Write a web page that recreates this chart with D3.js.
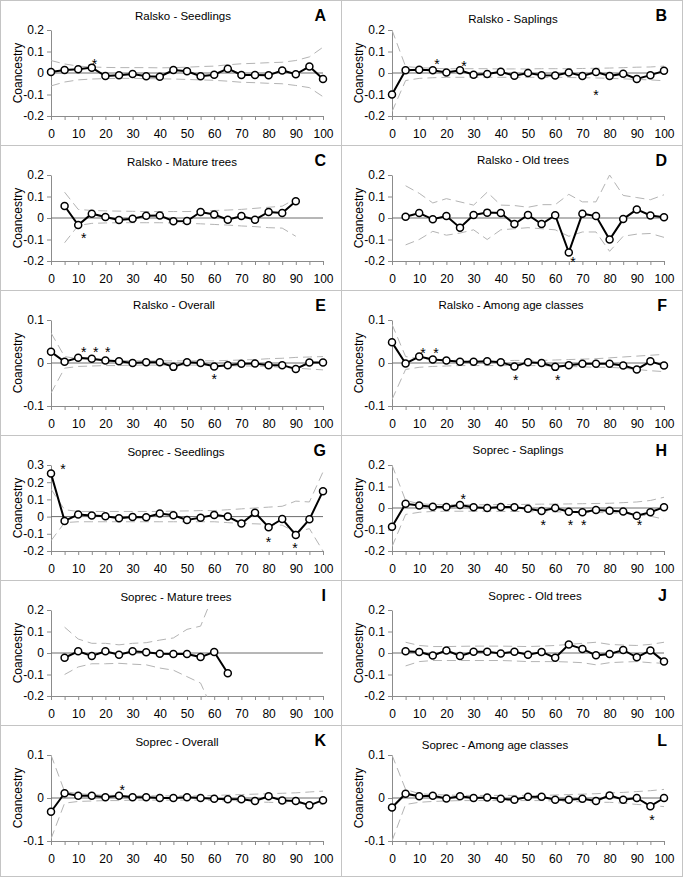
<!DOCTYPE html>
<html><head><meta charset="utf-8">
<script src="https://cdn.jsdelivr.net/npm/d3@7"></script>
<style>body{margin:0;background:#fff} svg{display:block} text{font-family:"Liberation Sans",Arial,sans-serif}</style>
</head><body><svg id="c" width="683" height="878"></svg>
<script>
// ---------- distance classes ----------
const dist0to100 = [0,5,10,15,20,25,30,35,40,45,50,55,60,65,70,75,80,85,90,95,100];
const dist5to100 = [5,10,15,20,25,30,35,40,45,50,55,60,65,70,75,80,85,90,95,100];
const dist5to90  = [5,10,15,20,25,30,35,40,45,50,55,60,65,70,75,80,85,90];
const dist5to65  = [5,10,15,20,25,30,35,40,45,50,55,60,65];
const dist5to60  = [5,10,15,20,25,30,35,40,45,50,55,60];
const xTickLabels = [0,10,20,30,40,50,60,70,80,90,100];

// ---------- titles ----------
const titles = ["Ralsko - Seedlings","Ralsko - Saplings","Ralsko - Mature trees","Ralsko - Old trees",
  "Ralsko - Overall","Ralsko - Among age classes","Soprec - Seedlings","Soprec - Saplings",
  "Soprec - Mature trees","Soprec - Old trees","Soprec - Overall","Soprec - Among age classes"];
const letters = ["A","B","C","D","E","F","G","H","I","J","K","L"];

// ---------- A: Ralsko Seedlings ----------
const obsA = [0.005,0.014,0.017,0.025,-0.014,-0.011,-0.005,-0.015,-0.017,0.014,0.008,-0.015,-0.008,0.02,-0.009,-0.009,-0.011,0.012,-0.006,0.03,-0.028];
const upA  = [0.058,0.042,0.032,0.028,0.026,0.025,0.025,0.025,0.024,0.025,0.027,0.03,0.032,0.038,0.043,0.045,0.048,0.05,0.058,0.075,0.12];
const loA  = [-0.06,-0.042,-0.032,-0.028,-0.026,-0.025,-0.025,-0.026,-0.027,-0.028,-0.03,-0.032,-0.034,-0.038,-0.043,-0.045,-0.048,-0.05,-0.058,-0.068,-0.11];
const starsA = [[16,0.058]];

// ---------- B: Ralsko Saplings ----------
const obsB = [-0.1,0.013,0.015,0.013,0.002,0.013,-0.008,-0.005,0.006,-0.013,0,-0.01,-0.012,0.002,-0.014,0.005,-0.014,-0.003,-0.028,-0.01,0.01];
const upB  = [0.2,0.03,0.025,0.022,0.02,0.02,0.02,0.02,0.019,0.019,0.019,0.02,0.02,0.02,0.021,0.022,0.023,0.025,0.027,0.028,0.032];
const loB  = [-0.18,-0.035,-0.025,-0.022,-0.02,-0.02,-0.02,-0.02,-0.02,-0.02,-0.02,-0.02,-0.02,-0.021,-0.022,-0.023,-0.025,-0.027,-0.03,-0.032,-0.036];
const starsB = [[16.5,0.056],[26.5,0.048],[75,-0.087]];

// ---------- C: Ralsko Mature trees ----------
const obsC = [0.056,-0.033,0.02,0.005,-0.009,-0.003,0.011,0.012,-0.015,-0.014,0.028,0.016,-0.008,0.009,-0.008,0.028,0.023,0.078];
const upC  = [0.12,0.04,0.035,0.033,0.032,0.031,0.03,0.03,0.03,0.03,0.032,0.035,0.037,0.04,0.045,0.05,0.055,0.09];
const loC  = [-0.115,-0.035,-0.025,-0.023,-0.022,-0.022,-0.022,-0.022,-0.023,-0.025,-0.027,-0.03,-0.033,-0.037,-0.04,-0.045,-0.047,-0.085];
const starsC = [[12,-0.08]];

// ---------- D: Ralsko Old trees ----------
const obsD = [0.006,0.023,-0.006,0.009,-0.045,0.014,0.025,0.023,-0.028,0.014,-0.028,0.013,-0.16,0.02,0.009,-0.1,-0.005,0.04,0.012,0.003];
const upD  = [0.15,0.115,0.07,0.09,0.075,0.06,0.12,0.06,0.058,0.05,0.062,0.062,0.11,0.075,0.075,0.2,0.105,0.095,0.085,0.108];
const loD  = [-0.125,-0.1,-0.062,-0.08,-0.07,-0.055,-0.1,-0.055,-0.05,-0.045,-0.05,-0.055,-0.085,-0.065,-0.065,-0.155,-0.085,-0.075,-0.072,-0.09];
const starsD = [[66.5,-0.19]];

// ---------- E: Ralsko Overall ----------
const obsE = [0.026,0.003,0.012,0.01,0.006,0.004,0,0.002,0.002,-0.009,0.002,0,-0.008,-0.005,-0.002,-0.001,-0.005,-0.005,-0.014,0.001,0.001];
const upE  = [0.07,0.015,0.01,0.008,0.006,0.006,0.005,0.005,0.005,0.005,0.005,0.005,0.005,0.006,0.007,0.008,0.01,0.011,0.013,0.014,0.015];
const loE  = [-0.07,-0.012,-0.008,-0.007,-0.006,-0.006,-0.005,-0.005,-0.005,-0.005,-0.005,-0.005,-0.005,-0.006,-0.007,-0.007,-0.008,-0.01,-0.012,-0.014,-0.016];
const starsE = [[12,0.032],[16.4,0.032],[20.9,0.032],[60,-0.03]];

// ---------- F: Ralsko Among age classes ----------
const obsF = [0.048,-0.001,0.015,0.008,0.006,0.003,0.003,0.004,0.002,-0.008,0.002,0,-0.009,-0.005,-0.002,-0.002,-0.002,-0.006,-0.015,0.004,-0.006];
const upF  = [0.09,0.015,0.01,0.008,0.007,0.006,0.005,0.005,0.005,0.006,0.006,0.006,0.007,0.008,0.009,0.01,0.012,0.014,0.016,0.018,0.02];
const loF  = [-0.085,-0.015,-0.01,-0.008,-0.007,-0.006,-0.006,-0.006,-0.006,-0.006,-0.006,-0.006,-0.007,-0.008,-0.009,-0.01,-0.01,-0.012,-0.015,-0.018,-0.02];
const starsF = [[11.4,0.03],[16.2,0.03],[45.5,-0.032],[60.9,-0.032]];

// ---------- G: Soprec Seedlings ----------
const obsG = [0.25,-0.025,0.012,0.006,0.002,-0.01,-0.002,-0.004,0.018,0.008,-0.02,-0.006,0.01,0,-0.04,0.023,-0.062,-0.014,-0.107,-0.016,0.148];
const upG  = [0.16,0.04,0.03,0.03,0.03,0.03,0.03,0.03,0.03,0.032,0.033,0.035,0.035,0.04,0.045,0.05,0.055,0.06,0.09,0.085,0.26];
const loG  = [-0.14,-0.035,-0.03,-0.03,-0.03,-0.03,-0.03,-0.03,-0.03,-0.03,-0.03,-0.03,-0.03,-0.035,-0.04,-0.042,-0.045,-0.05,-0.09,-0.07,-0.2];
const starsG = [[4.4,0.292],[80,-0.13],[89.7,-0.165]];

// ---------- H: Soprec Saplings ----------
const obsH = [-0.087,0.02,0.012,0.006,0.005,0.014,0.004,0,0.005,0.004,-0.004,-0.014,0,-0.017,-0.02,-0.009,-0.013,-0.016,-0.036,-0.02,0.004];
const upH  = [0.2,0.035,0.02,0.016,0.015,0.015,0.015,0.015,0.016,0.016,0.017,0.018,0.018,0.019,0.02,0.021,0.022,0.025,0.028,0.035,0.05];
const loH  = [-0.18,-0.03,-0.02,-0.016,-0.015,-0.015,-0.015,-0.015,-0.016,-0.016,-0.017,-0.018,-0.018,-0.019,-0.02,-0.021,-0.022,-0.025,-0.03,-0.038,-0.052];
const starsH = [[26.2,0.056],[55.6,-0.067],[65.6,-0.067],[70.5,-0.067],[91,-0.067]];

// ---------- I: Soprec Mature trees ----------
const obsI = [-0.022,0.008,-0.014,0.008,-0.008,0.008,0.004,-0.003,-0.005,-0.005,-0.019,0.005,-0.094];
const upI  = [0.12,0.065,0.045,0.045,0.038,0.045,0.048,0.06,0.07,0.11,0.125,0.28];
const loI  = [-0.1,-0.065,-0.05,-0.05,-0.048,-0.052,-0.055,-0.07,-0.08,-0.11,-0.14,-0.28];
const starsI = [];

// ---------- J: Soprec Old trees ----------
const obsJ = [0.008,0.005,-0.012,0.012,-0.014,0.006,0.006,-0.002,0.006,-0.008,0.005,-0.022,0.039,0.019,-0.011,-0.005,0.014,-0.02,0.012,-0.039];
const upJ  = [0.05,0.035,0.03,0.03,0.031,0.032,0.032,0.032,0.031,0.03,0.032,0.035,0.04,0.045,0.05,0.04,0.037,0.035,0.04,0.05];
const loJ  = [-0.06,-0.04,-0.035,-0.035,-0.035,-0.035,-0.035,-0.035,-0.037,-0.04,-0.04,-0.04,-0.042,-0.045,-0.055,-0.045,-0.042,-0.04,-0.045,-0.048];
const starsJ = [];

// ---------- K: Soprec Overall ----------
const obsK = [-0.032,0.011,0.005,0.005,0.002,0.005,0.002,0.002,0,0,0.002,0,-0.002,-0.003,-0.003,-0.007,0.004,-0.006,-0.007,-0.017,-0.005];
const upK  = [0.1,0.015,0.01,0.008,0.006,0.006,0.005,0.005,0.005,0.005,0.005,0.005,0.006,0.007,0.008,0.009,0.01,0.011,0.012,0.014,0.016];
const loK  = [-0.095,-0.012,-0.008,-0.007,-0.006,-0.006,-0.005,-0.005,-0.005,-0.005,-0.005,-0.005,-0.006,-0.007,-0.008,-0.009,-0.01,-0.011,-0.012,-0.013,-0.015];
const starsK = [[26.2,0.025]];

// ---------- L: Soprec Among age classes ----------
const obsL = [-0.022,0.01,0.004,0.005,-0.001,0.004,0,0.001,-0.002,-0.004,0.003,0.003,-0.004,-0.004,-0.002,-0.007,0.006,-0.004,0,-0.019,0];
const upL  = [0.1,0.02,0.01,0.008,0.007,0.006,0.006,0.006,0.006,0.006,0.006,0.006,0.007,0.008,0.009,0.01,0.012,0.013,0.015,0.017,0.02];
const loL  = [-0.1,-0.015,-0.01,-0.008,-0.007,-0.006,-0.006,-0.006,-0.006,-0.006,-0.006,-0.006,-0.007,-0.008,-0.009,-0.01,-0.01,-0.012,-0.015,-0.017,-0.02];
const starsL = [[95.6,-0.0445]];

// ---------- y axis ranges / ticks ----------
const yTicks02 = [-0.2,-0.1,0,0.1,0.2];
const yTicks01 = [-0.1,0,0.1];
const yTicksG  = [-0.2,-0.1,0,0.1,0.2,0.3];

// ---------- build panel table ----------
const panels = [
  {obs:obsA, obsX:dist0to100, up:upA, lo:loA, envX:dist0to100, stars:starsA, yt:yTicks02},
  {obs:obsB, obsX:dist0to100, up:upB, lo:loB, envX:dist0to100, stars:starsB, yt:yTicks02},
  {obs:obsC, obsX:dist5to90,  up:upC, lo:loC, envX:dist5to90,  stars:starsC, yt:yTicks02},
  {obs:obsD, obsX:dist5to100, up:upD, lo:loD, envX:dist5to100, stars:starsD, yt:yTicks02},
  {obs:obsE, obsX:dist0to100, up:upE, lo:loE, envX:dist0to100, stars:starsE, yt:yTicks01},
  {obs:obsF, obsX:dist0to100, up:upF, lo:loF, envX:dist0to100, stars:starsF, yt:yTicks01},
  {obs:obsG, obsX:dist0to100, up:upG, lo:loG, envX:dist0to100, stars:starsG, yt:yTicksG},
  {obs:obsH, obsX:dist0to100, up:upH, lo:loH, envX:dist0to100, stars:starsH, yt:yTicks02},
  {obs:obsI, obsX:dist5to65,  up:upI, lo:loI, envX:dist5to60,  stars:starsI, yt:yTicks02},
  {obs:obsJ, obsX:dist5to100, up:upJ, lo:loJ, envX:dist5to100, stars:starsJ, yt:yTicks02},
  {obs:obsK, obsX:dist0to100, up:upK, lo:loK, envX:dist0to100, stars:starsK, yt:yTicks01},
  {obs:obsL, obsX:dist0to100, up:upL, lo:loL, envX:dist0to100, stars:starsL, yt:yTicks01}
].map((p,i)=>Object.assign(p,{title:titles[i], letter:letters[i]}));

// layout (title centre per panel, as in the original figure)
const titleCx = [183,172,182,182,174,170,176,177,176,194,177,154];
const titleBase = [20,23,21,19,19,19,21,19,21,20,21,24];

const fmt = d => d === 0 ? "0" : String(+d.toFixed(1));
const svg = d3.select("#c");
const PL=51, PR=323, PT=30, PB=116;

panels.forEach((p,i)=>{
  const col=i%2, row=Math.floor(i/2);
  const ox=col*341, oy=row*145;
  const h = row===5 ? 151 : 145;
  const g = svg.append("g").attr("transform",`translate(${ox},${oy})`);
  g.append("rect").attr("x",0.5).attr("y",0.5).attr("width",341).attr("height",h)
    .attr("fill","none").attr("stroke","#c4c4c4");

  const x = d3.scaleLinear().domain([0,100]).range([PL,PR]);
  const y = d3.scaleLinear().domain([p.yt[0], p.yt[p.yt.length-1]]).range([PB,PT]);

  // title + letter
  g.append("text").attr("x",titleCx[i]).attr("y",titleBase[i]).attr("text-anchor","middle")
    .attr("font-size","11.5px").text(p.title);
  g.append("text").attr("x",326).attr("y",21).attr("text-anchor","end")
    .attr("font-size","16px").attr("font-weight","bold").text(p.letter);

  // y label
  g.append("text").attr("transform",`translate(22,${(PT+PB)/2}) rotate(-90)`)
    .attr("text-anchor","middle").attr("font-size","12px").text("Coancestry");

  // axes
  const ya = g.append("g").attr("transform",`translate(${PL},0)`)
    .call(d3.axisLeft(y).tickValues(p.yt).tickSize(4).tickSizeOuter(0).tickPadding(3).tickFormat(fmt));
  const xa = g.append("g").attr("transform",`translate(0,${PB})`)
    .call(d3.axisBottom(x).tickValues(dist0to100).tickSize(4).tickSizeOuter(0).tickPadding(9)
      .tickFormat(d => xTickLabels.includes(d) ? String(d) : ""));
  [ya,xa].forEach(a=>{
    a.select(".domain").attr("stroke","#8c8c8c");
    a.selectAll(".tick line").attr("stroke","#8c8c8c");
    a.selectAll(".tick text").attr("font-size","12px").attr("fill","#000")
      .attr("font-family",'"Liberation Sans",Arial,sans-serif');
  });

  // zero line
  g.append("line").attr("x1",x(0)).attr("x2",x(100)).attr("y1",y(0)).attr("y2",y(0))
    .attr("stroke","#6e6e6e").attr("stroke-width",1);

  // clip
  const cid = "clip"+i;
  g.append("clipPath").attr("id",cid).append("rect")
    .attr("x",PL).attr("y",PT-1).attr("width",PR-PL+2).attr("height",PB-PT+2);

  // envelopes
  const env = d3.line().x((d,k)=>x(p.envX[k])).y(d=>y(d));
  [p.up,p.lo].forEach(arr=>{
    g.append("path").attr("d",env(arr)).attr("fill","none").attr("stroke","#b4b4b4")
      .attr("stroke-width",1).attr("stroke-dasharray","9,5").attr("clip-path",`url(#${cid})`);
  });

  // observed
  const ln = d3.line().x((d,k)=>x(p.obsX[k])).y(d=>y(d));
  g.append("path").attr("d",ln(p.obs)).attr("fill","none").attr("stroke","#000").attr("stroke-width",2);
  g.selectAll("circle.pt").data(p.obs).enter().append("circle")
    .attr("cx",(d,k)=>x(p.obsX[k])).attr("cy",d=>y(d)).attr("r",3.5)
    .attr("fill","#fff").attr("stroke","#000").attr("stroke-width",1.5);

  // significance stars
  g.selectAll("text.star").data(p.stars).enter().append("text")
    .attr("x",d=>x(d[0])).attr("y",d=>y(d[1])+8).attr("text-anchor","middle")
    .attr("font-size","14px").text("*");
});
</script></body></html>
